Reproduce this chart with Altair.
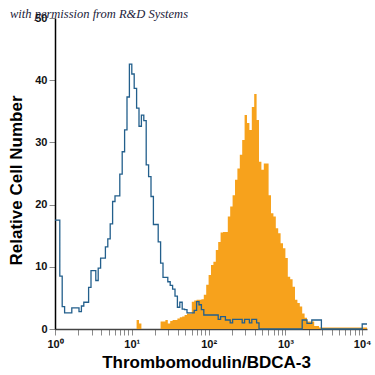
import altair as alt
import pandas as pd

# Histogram bins: 32 bins per decade, starting at 10^0
bins_per_decade = 32

isotype_counts = [
    17.5, 17.5, 8.5, 3.6, 2.6, 2.6, 2.6, 3.4, 3.4, 3.4,
    2.8, 3.7, 4.3, 4.3, 6.7, 9.4, 9.4, 7.8, 9.8, 11.4,
    11.4, 13.2, 14.5, 16.9, 20.5, 21.4, 21.4, 24.9, 28.5, 32.0,
    37.3, 42.6, 41.0, 38.7, 35.5, 32.6, 34.4, 33.5, 26.4, 24.5,
    21.3, 16.8, 16.8, 14.0, 10.6, 8.3, 8.3, 7.6, 7.0, 6.4,
    5.3, 3.5, 4.3, 3.2, 3.1, 2.6, 2.6, 2.6, 3.0, 4.4,
    3.9, 3.1, 2.25, 2.25, 2.25, 2.25, 2.25, 2.25, 1.55, 2.0,
    2.0, 1.45, 1.45, 1.0, 1.55, 1.55, 1.55, 1.55, 1.0, 1.55,
    1.55, 1.0, 1.55, 1.55, 1.0, 0, 0, 0, 0, 0,
    0, 0, 0, 0, 0, 0, 0, 0, 0, 0,
    0, 0, 0, 1.45, 1.45, 0.9, 0.9, 1.45, 1.45, 1.45,
    1.45, 0, 0, 0, 0, 0, 0, 0, 0, 0,
    0, 0, 0, 0, 0, 0, 0, 0, 0.8, 0.8,
]

thrombomodulin_counts = [
    0, 0, 0, 0, 0, 0, 0, 0, 0, 0,
    0, 0, 0, 0, 0, 0, 0, 0, 0, 0,
    0, 0, 0, 0, 0, 0, 0, 0, 0, 0,
    0, 0, 0, 0, 1.45, 0.9, 0, 0, 0, 0,
    0, 0, 0, 0, 1.2, 1.2, 1.45, 0.9, 1.3, 1.45,
    1.45, 1.7, 1.9, 2.0, 2.25, 2.5, 2.5, 4.4, 4.6, 4.7,
    4.7, 4.8, 5.5, 7.1, 8.7, 10.3, 10.8, 12.7, 14.0, 15.5,
    15.6, 15.6, 18.1, 19.7, 21.5, 24.0, 25.8, 28.0, 30.4, 34.4,
    33.1, 32.0, 35.7, 37.8, 33.6, 26.9, 25.6, 26.6, 26.6, 21.5,
    18.6, 18.1, 16.2, 15.4, 13.8, 13.0, 11.4, 8.4, 8.0, 6.8,
    4.7, 4.2, 3.6, 2.5, 1.8, 1.2, 1.2, 1.2, 0.5, 0.5,
    0.25, 0.25, 0.25, 0.25, 0.25, 0.25, 0.25, 0.25, 0.25, 0.25,
    0.25, 0.25, 0.25, 0.25, 0.25, 0.25, 0.25, 0.25, 0.25, 0.25,
]

x_tick_values = [m * 10 ** k for k in range(4) for m in range(1, 10)] + [10000]
y_tick_values = [0, 10, 20, 30, 40, 50]
x_title = "Thrombomodulin/BDCA-3"
y_title = "Relative Cell Number"
watermark = "with permission from R&D Systems"

n_bins = len(isotype_counts)
x_edges = [10 ** (i / bins_per_decade) for i in range(n_bins + 1)]

iso_df = pd.DataFrame({"x": x_edges, "count": isotype_counts + [isotype_counts[-1]]})
tm_df = pd.DataFrame({"x": x_edges, "count": thrombomodulin_counts + [thrombomodulin_counts[-1]]})

x_max = x_edges[-1]

label_expr = ("datum.value == 1 ? '10⁰' : datum.value == 10 ? '10¹' : "
              "datum.value == 100 ? '10²' : datum.value == 1000 ? '10³' : "
              "datum.value == 10000 ? '10⁴' : ''")

x_enc = alt.X(
    "x:Q",
    scale=alt.Scale(type="log", domain=[1, x_max], nice=False),
    axis=alt.Axis(
        title=x_title,
        values=x_tick_values,
        labelExpr=label_expr,
        labelOverlap=False,
        labelFlush=False,
        grid=False,
        tickSize=6,
        tickColor="#8a8a8a",
        domainColor="#444444",
        domainWidth=1.5,
        labelFont="Liberation Sans",
        labelFontSize=11,
        labelFontWeight="bold",
        labelColor="#111111",
        labelPadding=3,
        titleFont="Liberation Sans",
        titleFontSize=17,
        titleFontWeight="bold",
        titleColor="#000000",
        titlePadding=5,
        titleX=151,
    ),
)

y_enc = alt.Y(
    "count:Q",
    scale=alt.Scale(domain=[0, 50], nice=False),
    axis=alt.Axis(
        title=y_title,
        values=y_tick_values,
        grid=False,
        tickSize=6,
        tickColor="#8a8a8a",
        domainColor="#000000",
        domainWidth=1.5,
        labelFont="Liberation Sans",
        labelFontSize=11,
        labelFontWeight="bold",
        labelColor="#111111",
        labelPadding=2,
        titleFont="Liberation Sans",
        titleFontSize=17,
        titleFontWeight="bold",
        titleColor="#000000",
        titlePadding=9,
        titleY=162,
    ),
)

area = alt.Chart(tm_df).mark_area(
    interpolate="step-after", color="#F7A21C", opacity=1
).encode(x=x_enc, y=y_enc)

line = alt.Chart(iso_df).mark_line(
    interpolate="step-after", color="#235f8c", strokeWidth=1.3
).encode(x=x_enc, y=y_enc)

wm = alt.Chart(pd.DataFrame({"t": [watermark]})).mark_text(
    align="left", baseline="alphabetic", font="Liberation Serif",
    fontStyle="italic", fontSize=12.5, color="#1c1c3a"
).encode(text="t:N", x=alt.value(-45), y=alt.value(0))

chart = alt.layer(area, line, wm).properties(
    width=312,
    height=311,
    padding={"left": 55, "top": 18, "right": 8, "bottom": 46},
    autosize=alt.AutoSizeParams(type="none"),
).configure_view(stroke=None)

chart.save("out.html", embed_options={"renderer": "svg", "actions": False})
